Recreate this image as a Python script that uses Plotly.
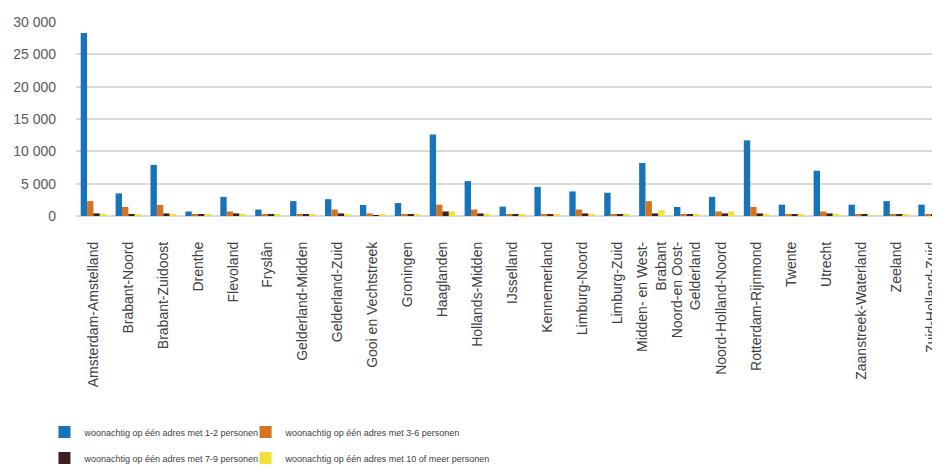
import plotly.graph_objects as go

regions = [
    "Amsterdam-Amstelland", "Brabant-Noord", "Brabant-Zuidoost", "Drenthe", "Flevoland",
    "Fryslân", "Gelderland-Midden", "Gelderland-Zuid", "Gooi en Vechtstreek", "Groningen",
    "Haaglanden", "Hollands-Midden", "IJsselland", "Kennemerland", "Limburg-Noord",
    "Limburg-Zuid", "Midden- en West-<br>Brabant", "Noord-en Oost-<br>Gelderland",
    "Noord-Holland-Noord", "Rotterdam-Rijnmond", "Twente", "Utrecht",
    "Zaanstreek-Waterland", "Zeeland", "Zuid-Holland-Zuid",
]

p_1_2 = [28300, 3500, 7900, 700, 2950, 1000, 2300, 2600, 1700, 2000,
         12600, 5400, 1450, 4500, 3800, 3600, 8200, 1400, 2950, 11700,
         1750, 7000, 1750, 2300, 1750]
p_3_6 = [2300, 1400, 1700, 300, 700, 300, 300, 1000, 400, 300,
         1750, 1000, 300, 300, 1000, 300, 2300, 300, 700, 1400,
         300, 700, 300, 300, 300]
p_7_9 = [400, 300, 400, 300, 400, 300, 300, 400, 100, 300,
         700, 400, 300, 300, 400, 300, 400, 300, 400, 400,
         300, 400, 300, 300, 300]
p_10p = [300, 300, 300, 300, 300, 300, 300, 300, 300, 300,
         700, 300, 300, 300, 300, 300, 900, 300, 700, 300,
         300, 300, 100, 300, 200]

series = [
    ("woonachtig op één adres met 1-2 personen", p_1_2, "#1874b8", "legend"),
    ("woonachtig op één adres met 3-6 personen", p_3_6, "#d7731e", "legend2"),
    ("woonachtig op één adres met 7-9 personen", p_7_9, "#3e1f20", "legend"),
    ("woonachtig op één adres met 10 of meer personen", p_10p, "#f3e13a", "legend2"),
]

fig = go.Figure()
for i, (name, vals, col, lg) in enumerate(series):
    fig.add_trace(go.Bar(x=regions, y=vals, name=name, marker_color=col,
                         marker_line_width=0, legend=lg, legendgroup=f"g{i}"))

legend_font = dict(family="Liberation Sans, Arial, sans-serif", size=9, color="#404040")

# page body has an 8px margin, so the figure is sized to fit the 940x466 window
fig.update_layout(
    width=932, height=458,
    margin=dict(l=68, r=0, t=14, b=250, autoexpand=False),
    paper_bgcolor="white", plot_bgcolor="white",
    barmode="group", bargap=0.27, bargroupgap=0,
    separators=", ",
    font=dict(family="Liberation Sans, Arial, sans-serif", color="#404040"),
    legend=dict(orientation="v", x=-0.0365, xanchor="left",
                y=-1.0386, yanchor="top", font=legend_font,
                tracegroupgap=7, bgcolor="rgba(0,0,0,0)"),
    legend2=dict(orientation="v", x=0.1963, xanchor="left",
                 y=-1.0386, yanchor="top", font=legend_font,
                 tracegroupgap=7, bgcolor="rgba(0,0,0,0)"),
)

fig.update_yaxes(range=[0, 30000], tickvals=[0, 5000, 10000, 15000, 20000, 25000, 30000],
                 tickformat=",", showgrid=True, gridcolor="#d9d9d9", gridwidth=1.5,
                 zeroline=True, zerolinecolor="#d9d9d9", zerolinewidth=1.5,
                 showline=False, ticks="", ticklabelstandoff=19,
                 tickfont=dict(size=14, color="#595959"))
fig.update_xaxes(tickangle=-90, showline=False, ticks="", ticklabelstandoff=22,
                 range=[-0.5, 24.256],
                 tickmode="array", tickvals=regions, ticktext=regions,
                 tickfont=dict(size=14, color="#404040"))

fig.write_html("out.html")
